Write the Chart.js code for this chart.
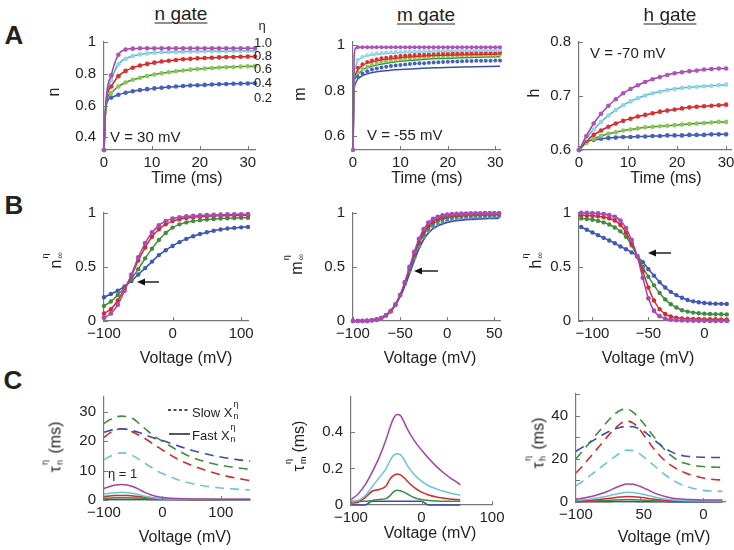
<!DOCTYPE html>
<html>
<head>
<meta charset="utf-8">
<script src="https://cdn.jsdelivr.net/npm/chart.js@4.4.0/dist/chart.umd.min.js"></script>
<style>
  body { margin: 0; width: 734px; height: 550px; overflow: hidden; position: relative; background: #fff;
         font-family: "Liberation Sans", Arial, sans-serif; color: #222; }
  canvas { position: absolute; }
  .t { position: absolute; white-space: nowrap; line-height: 1; transform: translate(-50%, -50%); }
  .l { transform: translate(0, -50%); }
  .r { transform: translate(-50%, -50%) rotate(-90deg); }
  .let { font-size: 26px; font-weight: bold; }
  .ttl { font-size: 19px; text-decoration: underline; text-underline-offset: 3px; text-decoration-thickness: 1px; }
  .ax { font-size: 16px; }
  .ann { font-size: 15px; }
  .eta { font-size: 13px; }
  .ss { position: relative; display: inline-block; width: 8px; height: 1em; vertical-align: baseline; }
  .ss i { position: absolute; left: 1px; font-style: normal; font-size: 9px; line-height: 1; }
  .ss i:first-child { top: -4px; }
  .ss i:last-child { bottom: -4px; }
  svg { position: absolute; left: 0; top: 0; }
</style>
</head>
<body>

<script>
// ---- Row A: gate time courses (ms) ----
const tA1 = [0,0.4,1.5,3,4.5,6,7.5,9,10.5,12,13.5,15,16.5,18,19.5,21,22.5,24,25.5,27,28.5,30,31.5];
const nPurple = [0.32,0.62,0.79,0.92,0.952,0.958,0.96,0.96,0.96,0.96,0.96,0.96,0.96,0.96,0.96,0.96,0.96,0.96,0.96,0.96,0.96,0.96,0.96];
const nCyan   = [0.32,0.61,0.76,0.86,0.895,0.912,0.922,0.928,0.932,0.935,0.937,0.938,0.939,0.94,0.94,0.941,0.941,0.942,0.942,0.943,0.943,0.943,0.944];
const nRed    = [0.32,0.61,0.72,0.785,0.818,0.838,0.852,0.862,0.87,0.877,0.882,0.887,0.891,0.894,0.897,0.899,0.901,0.903,0.905,0.906,0.907,0.908,0.909];
const nGreen  = [0.32,0.6,0.68,0.72,0.745,0.762,0.775,0.786,0.795,0.803,0.81,0.816,0.821,0.826,0.83,0.833,0.836,0.839,0.841,0.843,0.845,0.847,0.848];
const nBlue   = [0.32,0.59,0.65,0.668,0.68,0.69,0.697,0.703,0.708,0.712,0.716,0.72,0.723,0.726,0.728,0.73,0.732,0.734,0.736,0.737,0.738,0.739,0.74];

const tMdots = [0,1,2,3,4,5,6,7,8,9,10,11,12,13,14,15,16,17,18,19,20,21,22,23,24,25,26,27,28,29,30,31];
const mPurpleDots = [0.54,0.99,0.99,0.99,0.99,0.99,0.99,0.99,0.99,0.99,0.99,0.99,0.99,0.99,0.99,0.99,0.99,0.99,0.99,0.99,0.99,0.99,0.99,0.99,0.99,0.99,0.99,0.99,0.99,0.99,0.99,0.99];
const mCyanDots   = [0.54,0.935,0.948,0.955,0.96,0.963,0.965,0.967,0.968,0.969,0.97,0.971,0.972,0.972,0.973,0.973,0.974,0.974,0.975,0.975,0.975,0.976,0.976,0.976,0.977,0.977,0.977,0.977,0.978,0.978,0.978,0.978];
const mRedDots    = [0.54,0.9,0.915,0.925,0.932,0.937,0.941,0.944,0.947,0.949,0.951,0.953,0.955,0.956,0.957,0.958,0.959,0.96,0.961,0.962,0.962,0.963,0.963,0.964,0.964,0.965,0.965,0.965,0.966,0.966,0.966,0.967];
const mGreenDots  = [0.54,0.88,0.895,0.905,0.913,0.919,0.924,0.928,0.931,0.934,0.937,0.939,0.941,0.943,0.944,0.946,0.947,0.948,0.949,0.95,0.951,0.952,0.952,0.953,0.954,0.954,0.955,0.955,0.956,0.956,0.956,0.957];
const mBlueDots   = [0.54,0.86,0.875,0.885,0.892,0.897,0.901,0.904,0.907,0.91,0.912,0.914,0.916,0.918,0.919,0.92,0.922,0.923,0.924,0.925,0.926,0.927,0.927,0.928,0.929,0.929,0.93,0.93,0.931,0.931,0.932,0.932];
const tMline = [0,0.25,0.5,1,2,3,5,7,10,14,18,23,31];
const mPurpleLine = [0.54,0.95,0.985,0.99,0.99,0.99,0.99,0.99,0.99,0.99,0.99,0.99,0.99];
const mCyanLine   = [0.54,0.86,0.9,0.93,0.945,0.952,0.958,0.962,0.966,0.969,0.971,0.973,0.975];
const mRedLine    = [0.54,0.84,0.87,0.89,0.91,0.92,0.93,0.937,0.944,0.95,0.954,0.957,0.96];
const mGreenLine  = [0.54,0.83,0.855,0.87,0.89,0.9,0.912,0.92,0.928,0.935,0.94,0.944,0.948];
const mBlueLine   = [0.54,0.8,0.83,0.85,0.865,0.873,0.882,0.887,0.892,0.897,0.9,0.903,0.906];

const tA3 = [0,1.5,3,4.5,6,7.5,9,10.5,12,13.5,15,16.5,18,19.5,21,22.5,24,25.5,27,28.5,30];
const hPurple = [0.6,0.626,0.649,0.667,0.682,0.694,0.705,0.713,0.72,0.726,0.731,0.735,0.739,0.742,0.744,0.746,0.747,0.749,0.75,0.751,0.751];
const hCyan   = [0.6,0.622,0.638,0.652,0.664,0.674,0.683,0.69,0.696,0.701,0.705,0.708,0.711,0.713,0.715,0.716,0.717,0.718,0.719,0.72,0.721];
const hRed    = [0.6,0.617,0.628,0.636,0.643,0.649,0.654,0.658,0.662,0.665,0.668,0.671,0.673,0.675,0.677,0.679,0.68,0.681,0.682,0.683,0.684];
const hGreen  = [0.6,0.613,0.621,0.626,0.63,0.633,0.636,0.638,0.64,0.642,0.643,0.644,0.645,0.646,0.647,0.648,0.649,0.65,0.651,0.652,0.652];
const hBlue   = [0.6,0.616,0.619,0.621,0.622,0.623,0.624,0.624,0.625,0.625,0.626,0.626,0.627,0.627,0.627,0.628,0.628,0.628,0.629,0.629,0.629];

// ---- Row B: steady states vs voltage (mV) ----
const vB1 = [-100,-90,-80,-70,-60,-50,-40,-30,-20,-10,0,10,20,30,40,50,60,70,80,90,100,110];
const ninfPurple = [0.03,0.07,0.15,0.28,0.43,0.59,0.72,0.82,0.885,0.925,0.948,0.96,0.968,0.973,0.977,0.98,0.982,0.984,0.986,0.987,0.988,0.989];
const ninfRed    = [0.07,0.11,0.19,0.3,0.42,0.56,0.68,0.78,0.85,0.895,0.925,0.942,0.953,0.96,0.965,0.969,0.972,0.974,0.976,0.977,0.978,0.979];
const ninfGreen  = [0.14,0.18,0.24,0.31,0.39,0.48,0.58,0.67,0.75,0.815,0.865,0.895,0.913,0.925,0.933,0.94,0.944,0.948,0.951,0.953,0.955,0.956];
const ninfBlue   = [0.22,0.25,0.28,0.32,0.37,0.43,0.49,0.55,0.61,0.655,0.695,0.73,0.76,0.785,0.805,0.822,0.836,0.847,0.856,0.862,0.867,0.871];

const vB2 = [-100,-95,-90,-85,-80,-75,-70,-65,-60,-55,-50,-45,-40,-35,-30,-25,-20,-15,-10,-5,0,5,10,15,20,25,30,35,40,45,50,55];
const minfPurple = [0,0,0,0,0.005,0.01,0.025,0.05,0.09,0.15,0.24,0.36,0.5,0.64,0.76,0.85,0.91,0.945,0.965,0.977,0.984,0.989,0.992,0.994,0.995,0.996,0.997,0.997,0.998,0.998,0.998,0.998];
const minfRed    = [0,0,0,0.002,0.006,0.012,0.027,0.052,0.09,0.15,0.24,0.355,0.49,0.62,0.735,0.82,0.88,0.92,0.945,0.96,0.97,0.976,0.98,0.983,0.985,0.987,0.988,0.989,0.99,0.99,0.991,0.991];
const minfGreen  = [0,0,0.001,0.003,0.008,0.015,0.03,0.055,0.095,0.155,0.24,0.35,0.48,0.605,0.715,0.8,0.86,0.9,0.927,0.944,0.955,0.963,0.968,0.972,0.975,0.977,0.979,0.98,0.981,0.982,0.983,0.983];
const minfBlue   = [0,0.001,0.002,0.005,0.01,0.018,0.033,0.058,0.098,0.155,0.235,0.34,0.46,0.58,0.69,0.775,0.835,0.875,0.9,0.918,0.93,0.94,0.946,0.951,0.955,0.958,0.961,0.963,0.965,0.966,0.967,0.968];
const minfBlueLine = [0,0.001,0.002,0.004,0.008,0.015,0.03,0.055,0.093,0.148,0.225,0.325,0.44,0.56,0.67,0.755,0.815,0.855,0.882,0.9,0.913,0.922,0.929,0.934,0.938,0.941,0.944,0.946,0.948,0.95,0.951,0.952];

const vB3 = [-110,-105,-100,-95,-90,-85,-80,-75,-70,-65,-60,-55,-50,-45,-40,-35,-30,-25,-20,-15,-10,-5,0,5,10,15,20];
const hinfPurple = [1,1,0.998,0.996,0.99,0.98,0.965,0.93,0.86,0.75,0.6,0.4,0.21,0.095,0.045,0.022,0.012,0.008,0.005,0.004,0.003,0.002,0.002,0.001,0.001,0.001,0.001];
const hinfRed    = [0.98,0.978,0.975,0.97,0.962,0.95,0.93,0.89,0.82,0.72,0.6,0.46,0.31,0.19,0.11,0.065,0.042,0.03,0.024,0.021,0.019,0.018,0.017,0.016,0.016,0.015,0.015];
const hinfGreen  = [0.95,0.945,0.937,0.927,0.913,0.893,0.866,0.83,0.78,0.7,0.6,0.5,0.41,0.33,0.26,0.2,0.155,0.125,0.1,0.087,0.078,0.072,0.068,0.065,0.063,0.062,0.061];
const hinfBlue   = [0.87,0.845,0.82,0.795,0.77,0.745,0.72,0.69,0.665,0.635,0.6,0.545,0.48,0.42,0.36,0.31,0.27,0.24,0.215,0.195,0.182,0.173,0.167,0.163,0.16,0.159,0.158];

// ---- Row C: time constants (ms), dashed = slow, solid = fast ----
const vC1 = [-100,-90,-80,-70,-60,-50,-40,-30,-20,-10,0,25,50,75,100,125,150];
const tnBlueS  = [23,23.6,24,24.2,24,23.5,22.9,22.2,21.4,20.8,20.2,18.5,16.9,15.6,14.6,13.8,13.2];
const tnGreenS = [26,27.3,28.2,28.5,28.3,27.6,26,24.3,22.6,21.2,20,17,14.5,12.9,11.8,11,10.4];
const tnRedS   = [21.3,22.8,23.8,24.2,23.9,23,22,20.9,19.6,18.3,17,14,11.8,10,8.6,7.5,6.6];
const tnCyanS  = [13.7,14.8,15.6,16,15.8,15,13.8,12.5,11.2,10,9,7,5.6,4.7,4.1,3.7,3.4];
const tnPurpleF = [3.9,4.6,5.1,5.3,5.1,4.5,3.6,2.6,1.8,1.2,0.85,0.5,0.35,0.3,0.28,0.26,0.25];
const tnCyanF   = [2,2.3,2.5,2.6,2.5,2.2,1.8,1.3,0.9,0.6,0.45,0.3,0.25,0.22,0.2,0.2,0.2];
const tnRedF    = [1.2,1.35,1.5,1.55,1.5,1.4,1.2,0.95,0.75,0.55,0.45,0.3,0.2,0.18,0.15,0.15,0.15];
const tnGreenF  = [0.6,0.7,0.78,0.8,0.78,0.72,0.6,0.48,0.38,0.3,0.24,0.16,0.12,0.1,0.09,0.08,0.08];
const tnBlueF   = [0.15,0.17,0.19,0.2,0.2,0.19,0.17,0.14,0.12,0.1,0.09,0.07,0.06,0.05,0.05,0.05,0.05];

const vC2 = [-100,-90,-80,-70,-60,-50,-45,-40,-35,-30,-25,-20,-10,0,10,20,30,40,50,55];
const tmPurple = [0.03,0.06,0.11,0.18,0.26,0.36,0.42,0.47,0.495,0.49,0.455,0.415,0.35,0.3,0.255,0.215,0.18,0.15,0.125,0.11];
const tmCyan   = [0.02,0.025,0.05,0.1,0.15,0.2,0.24,0.27,0.28,0.275,0.25,0.215,0.165,0.13,0.105,0.09,0.076,0.066,0.058,0.053];
const tmRed    = [0.01,0.015,0.04,0.075,0.085,0.105,0.14,0.16,0.17,0.165,0.15,0.13,0.095,0.07,0.055,0.045,0.038,0.033,0.03,0.028];
const tmGreen  = [0.02,0.02,0.02,0.025,0.03,0.035,0.05,0.07,0.08,0.078,0.07,0.06,0.04,0.03,0.025,0.022,0.02,0.02,0.02,0.02];
const tmBlue   = [0,0,0,0.02,0.02,0.02,0.02,0.02,0.02,0.02,0.02,0.02,0.02,0.02,0,0,0,0,0,0];

const vC3 = [-100,-95,-90,-85,-80,-75,-70,-65,-60,-55,-50,-45,-40,-35,-30,-25,-20,-15,-10,-5,0,5,10,15];
const thGreenS = [20,23.5,27,30.5,34,37.5,40.5,42.5,43,41.5,38.5,35,31,27.5,24,21.3,19.3,18,17.2,16.7,16.4,16.2,16.1,16];
const thBlueS  = [23.5,25.3,27.2,29,30.8,32.4,33.7,34.6,35,34.8,33.8,32,29.5,27,24.8,23.2,22,21.3,21,20.8,20.7,20.6,20.6,20.6];
const thRedS   = [13.5,16.5,20,23.5,27,30.5,33.7,36.3,37.5,36.5,33.5,29.5,25.5,22,19,16.8,15,13.7,12.6,11.8,11.1,10.6,10.3,10.2];
const thCyanS  = [7.5,9.5,11.8,14,16.3,18.6,20.8,22.8,24,23.8,22.3,20,17.5,15,12.6,10.5,8.8,7.5,6.6,5.9,5.4,5.1,5,4.9];
const thPurpleF = [1.3,1.7,2.3,3,3.9,5,6.3,7.5,8.3,8.2,7.3,6,4.6,3.4,2.5,1.9,1.5,1.25,1.1,1,0.95,0.9,0.9,0.9];
const thCyanF   = [0.8,1,1.3,1.7,2.2,2.8,3.5,4.1,4.5,4.4,3.9,3.2,2.5,1.9,1.4,1.05,0.85,0.7,0.6,0.55,0.5,0.5,0.5,0.5];
const thRedF    = [0.4,0.5,0.7,0.95,1.25,1.6,2,2.3,2.5,2.45,2.2,1.8,1.4,1.05,0.8,0.6,0.48,0.4,0.35,0.32,0.3,0.3,0.3,0.3];
const thGreenF  = [0.2,0.25,0.32,0.42,0.55,0.7,0.87,1,1.1,1.08,0.97,0.8,0.62,0.47,0.35,0.27,0.22,0.19,0.17,0.16,0.15,0.15,0.15,0.15];
const thBlueF   = [0.05,0.06,0.08,0.1,0.13,0.16,0.19,0.2,0.2,0.18,0.15,0.12,0.09,0.07,0.06,0.05,0.05,0.05,0.05,0.05,0.05,0.05,0.05,0.05];

// tick values
const ticksTime = [0,10,20,30];
const ticksN = [0.4,0.6,0.8,1];
const ticksM = [0.6,0.8,1];
const ticksH = [0.6,0.7,0.8];
const ticksInf = [0,0.5,1];
const ticksV1 = [-100,0,100];
const ticksV2 = [-100,-50,0,50];
const ticksV3 = [-100,-50,0];
const ticksTauN = [0,10,20,30];
const ticksTauM = [0,0.2,0.4];
const ticksTauH = [0,10,20,30,40,50];

const PURPLE = '#a044aa', CYAN = '#6cc5d6', RED = '#d42a2a', GREEN = '#3f8d3f', LGREEN = '#8cc850', BLUE = '#3a4ea8';

const PAD_L = 60, PAD_T = 12, PAD_R = 24, PAD_B = 30;

const minus = v => String(v).replace('-', '\u2212');

// small inward tick marks, like the original figure
const inTicks = {
  id: 'inTicks',
  afterDatasetsDraw(chart) {
    const { ctx, chartArea: a, scales: { x, y } } = chart;
    ctx.save();
    ctx.strokeStyle = '#777';
    ctx.lineWidth = 1;
    ctx.beginPath();
    x.ticks.forEach(t => {
      const p = Math.round(x.getPixelForValue(t.value)) + 0.5;
      ctx.moveTo(p, a.bottom); ctx.lineTo(p, a.bottom - 4);
    });
    y.ticks.forEach(t => {
      const p = Math.round(y.getPixelForValue(t.value)) + 0.5;
      ctx.moveTo(a.left, p); ctx.lineTo(a.left + 4, p);
    });
    ctx.stroke();
    ctx.restore();
  }
};

function ds(xs, ys, color, extra) {
  return Object.assign({
    data: xs.map((x, i) => ({ x: x, y: ys[i] })),
    borderColor: color, backgroundColor: color,
    borderWidth: 1.5, pointRadius: 0, pointHoverRadius: 0, pointBorderWidth: 0,
    cubicInterpolationMode: 'monotone', clip: 6
  }, extra || {});
}
const mark = (c, r) => ({ pointRadius: r, pointBackgroundColor: c });
const dash = { borderDash: [9, 6], borderWidth: 1.6 };

function plot(box, xr, yr, xt, yt, datasets, xfmt, yfmt) {
  const c = document.createElement('canvas');
  const w = box.r - box.l + PAD_L + PAD_R, h = box.b - box.t + PAD_T + PAD_B;
  c.width = w; c.height = h;
  c.style.width = w + 'px'; c.style.height = h + 'px';
  c.style.left = (box.l - PAD_L) + 'px'; c.style.top = (box.t - PAD_T) + 'px';
  document.body.appendChild(c);
  const axis = (min, max, tv, fmt, pad) => ({
    type: 'linear', min: min, max: max,
    grid: { drawOnChartArea: false, drawTicks: false },
    border: { color: '#777', width: 1.2 },
    ticks: { color: '#222', font: { size: 15 }, padding: pad, maxRotation: 0, autoSkip: false,
             callback: v => (fmt ? fmt(v) : minus(v)) },
    afterBuildTicks: s => { s.ticks = tv.map(v => ({ value: v })); }
  });
  const xs = axis(xr[0], xr[1], xt, xfmt, 4);
  xs.afterFit = s => { s.height = PAD_B; };
  const ys = axis(yr[0], yr[1], yt, yfmt, 8);
  ys.afterFit = s => { s.width = PAD_L; };
  new Chart(c, {
    type: 'line',
    data: { datasets: datasets },
    options: {
      responsive: false, animation: false, devicePixelRatio: 1,
      layout: { padding: { top: PAD_T, right: PAD_R, left: 0, bottom: 0 } },
      plugins: { legend: { display: false }, tooltip: { enabled: false } },
      scales: { x: xs, y: ys }
    },
    plugins: [inTicks]
  });
}

const skip1 = c => ({ pointRadius: ctx => (ctx.dataIndex === 1 ? 0 : 2.3), pointBackgroundColor: c });

// A: n gate
plot({ l: 104, t: 37, r: 255, b: 150 }, [0, 31.5], [0.32, 1], ticksTime, ticksN, [
  ds(tA1, nPurple, PURPLE, skip1('#b052b8')),
  ds(tA1, nCyan, '#55b3c6', skip1('#8fd6e6')),
  ds(tA1, nRed, '#c42020', skip1('#de3030')),
  ds(tA1, nGreen, GREEN, skip1(LGREEN)),
  ds(tA1, nBlue, BLUE, skip1('#4562c0'))
]);

// A: m gate
plot({ l: 353, t: 37, r: 500, b: 150 }, [0, 31], [0.54, 1.0125], ticksTime, ticksM, [
  ds(tMdots, mPurpleDots, PURPLE, Object.assign({ showLine: false }, mark('#b052b8', 2))),
  ds(tMline, mPurpleLine, PURPLE),
  ds(tMdots, mCyanDots, CYAN, Object.assign({ showLine: false }, mark('#9adbe8', 2))),
  ds(tMline, mCyanLine, CYAN),
  ds(tMdots, mRedDots, RED, Object.assign({ showLine: false }, mark('#de3030', 2))),
  ds(tMline, mRedLine, RED),
  ds(tMdots, mGreenDots, GREEN, Object.assign({ showLine: false }, mark(LGREEN, 2))),
  ds(tMline, mGreenLine, GREEN),
  ds(tMdots, mBlueDots, BLUE, Object.assign({ showLine: false }, mark('#4562c0', 2))),
  ds(tMline, mBlueLine, BLUE)
]);

// A: h gate
plot({ l: 579, t: 37, r: 731, b: 150 }, [0, 31], [0.6, 0.8], ticksTime, ticksH, [
  ds(tA3, hPurple, PURPLE, mark('#b052b8', 2.3)),
  ds(tA3, hCyan, '#55b3c6', mark('#8fd6e6', 2.3)),
  ds(tA3, hRed, '#c42020', mark('#de3030', 2.3)),
  ds(tA3, hGreen, GREEN, mark(LGREEN, 2.3)),
  ds(tA3, hBlue, BLUE, mark('#4562c0', 2.3))
]);

// B: steady states
plot({ l: 104, t: 208, r: 248, b: 321 }, [-100, 110], [0, 1], ticksV1, ticksInf, [
  ds(vB1, ninfPurple, PURPLE, mark('#a84cb4', 2.4)),
  ds(vB1, ninfRed, RED, mark(RED, 2.2)),
  ds(vB1, ninfGreen, GREEN, mark(GREEN, 2.2)),
  ds(vB1, ninfBlue, BLUE, mark('#4058b8', 2.2))
]);
plot({ l: 353, t: 208, r: 500, b: 321 }, [-100, 56], [0, 1], ticksV2, ticksInf, [
  ds(vB2, minfPurple, PURPLE, mark('#a84cb4', 2.4)),
  ds(vB2, minfRed, RED, mark(RED, 2.1)),
  ds(vB2, minfGreen, GREEN, mark(GREEN, 2.1)),
  ds(vB2, minfBlue, BLUE, Object.assign({ showLine: false }, mark('#6a86d0', 2))),
  ds(vB2, minfBlueLine, BLUE, { borderWidth: 1.8 })
]);
plot({ l: 579, t: 208, r: 729, b: 321 }, [-112, 22], [0, 1], ticksV3, ticksInf, [
  ds(vB3, hinfPurple, PURPLE, mark('#a84cb4', 2.4)),
  ds(vB3, hinfRed, RED, mark(RED, 2.2)),
  ds(vB3, hinfGreen, GREEN, mark(GREEN, 2.2)),
  ds(vB3, hinfBlue, BLUE, mark('#4058b8', 2.2))
]);

// C: time constants
plot({ l: 104, t: 392, r: 250, b: 500 }, [-100, 150], [0, 35], ticksV1, ticksTauN, [
  ds(vC1, tnPurpleF, PURPLE),
  ds(vC1, tnCyanF, CYAN),
  ds(vC1, tnRedF, RED),
  ds(vC1, tnGreenF, GREEN),
  ds(vC1, tnBlueF, BLUE),
  ds(vC1, tnBlueS, BLUE, dash),
  ds(vC1, tnGreenS, GREEN, dash),
  ds(vC1, tnRedS, RED, dash),
  ds(vC1, tnCyanS, CYAN, dash)
]);
plot({ l: 351, t: 392, r: 492, b: 505 }, [-100, 100], [0, 0.59], ticksV1, ticksTauM, [
  ds(vC2, tmPurple, PURPLE),
  ds(vC2, tmCyan, CYAN),
  ds(vC2, tmRed, RED),
  ds(vC2, tmGreen, GREEN),
  ds(vC2, tmBlue, BLUE)
]);
plot({ l: 576, t: 389, r: 725, b: 502 }, [-100, 17], [0, 50], ticksV3, ticksTauH, [
  ds(vC3, thPurpleF, PURPLE),
  ds(vC3, thCyanF, CYAN),
  ds(vC3, thRedF, RED),
  ds(vC3, thGreenF, GREEN),
  ds(vC3, thBlueF, BLUE),
  ds(vC3, thBlueS, BLUE, dash),
  ds(vC3, thGreenS, GREEN, dash),
  ds(vC3, thRedS, RED, dash),
  ds(vC3, thCyanS, CYAN, dash)
], v => (v === -50 ? '  50' : minus(v)), v => ([10, 30, 50].includes(v) ? '' : String(v)));
</script>

<!-- panel letters and titles -->
<div class="t let" style="left:14px;top:35px">A</div>
<div class="t let" style="left:14px;top:205px">B</div>
<div class="t let" style="left:13px;top:380px">C</div>
<div class="t ttl" style="left:181px;top:13px">n gate</div>
<div class="t ttl" style="left:426px;top:14px">m gate</div>
<div class="t ttl" style="left:670px;top:14px">h gate</div>

<!-- eta legend -->
<div class="t eta" style="left:262px;top:25px">η</div>
<div class="t eta l" style="left:254px;top:42px">1.0</div>
<div class="t eta l" style="left:254px;top:55px">0.8</div>
<div class="t eta l" style="left:254px;top:68px">0.6</div>
<div class="t eta l" style="left:254px;top:82px">0.4</div>
<div class="t eta l" style="left:254px;top:97px">0.2</div>

<div class="t ann l" style="left:110px;top:136px">V = 30 mV</div>
<div class="t ann l" style="left:367px;top:134px">V = -55 mV</div>
<div class="t ann l" style="left:590px;top:52px">V = -70 mV</div>

<!-- axis titles -->
<div class="t ax r" style="left:54px;top:92px">n</div>
<div class="t ax r" style="left:300px;top:94px">m</div>
<div class="t ax r" style="left:534px;top:93px">h</div>
<div class="t ax" style="left:187px;top:178px">Time (ms)</div>
<div class="t ax" style="left:427px;top:178px">Time (ms)</div>
<div class="t ax" style="left:666px;top:178px">Time (ms)</div>

<div class="t ax r" style="left:54px;top:260px">n<span class="ss"><i>η</i><i>∞</i></span></div>
<div class="t ax r" style="left:295px;top:264px">m<span class="ss"><i>η</i><i>∞</i></span></div>
<div class="t ax r" style="left:534px;top:260px">h<span class="ss"><i>η</i><i>∞</i></span></div>
<div class="t ax" style="left:186px;top:358px">Voltage (mV)</div>
<div class="t ax" style="left:430px;top:358px">Voltage (mV)</div>
<div class="t ax" style="left:648px;top:358px">Voltage (mV)</div>

<div class="t ax r" style="left:54px;top:447px">τ<span class="ss"><i>η</i><i>n</i></span> (ms)</div>
<div class="t ax r" style="left:297px;top:446px">τ<span class="ss"><i>η</i><i>m</i></span> (ms)</div>
<div class="t ax r" style="left:537px;top:443px">τ<span class="ss"><i>η</i><i>h</i></span> (ms)</div>
<div class="t ax" style="left:185px;top:537px">Voltage (mV)</div>
<div class="t ax" style="left:430px;top:533px">Voltage (mV)</div>
<div class="t ax" style="left:664px;top:537px">Voltage (mV)</div>

<!-- tau_n legend -->
<div class="t eta l" style="left:192px;top:411px">Slow X<span class="ss"><i>η</i><i>n</i></span></div>
<div class="t eta l" style="left:192px;top:434px">Fast X<span class="ss"><i>η</i><i>n</i></span></div>
<div class="t eta l" style="left:108px;top:473px">η = 1</div>

<svg width="734" height="550">
  <g stroke="#111" stroke-width="1.4" fill="none">
    <line x1="168" y1="410" x2="190" y2="410" stroke-dasharray="3 2.5"/>
    <line x1="169" y1="434" x2="190" y2="434"/>
    <line x1="144" y1="282" x2="159" y2="282"/>
    <line x1="421" y1="271" x2="438" y2="271"/>
    <line x1="655" y1="253" x2="671" y2="253"/>
  </g>
  <g fill="#111">
    <polygon points="137,282 145,278.5 145,285.5"/>
    <polygon points="414,271 422,267.5 422,274.5"/>
    <polygon points="648,253 656,249.5 656,256.5"/>
  </g>
</svg>
</body>
</html>
